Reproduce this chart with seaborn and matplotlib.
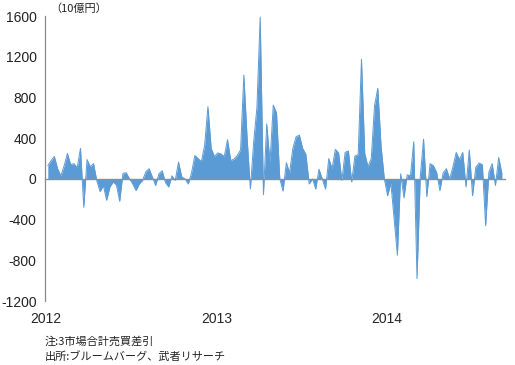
import numpy as np
import pandas as pd
import matplotlib
matplotlib.use("Agg")
import matplotlib.pyplot as plt
import matplotlib.dates as mdates
import seaborn as sns

# Weekly net buying (10億円), 3 markets combined
start_date = "2012-01-06"
values = [
    130, 180, 220, 100, 30, 130, 250, 140, 150, 110,
    300, -280, 190, 120, 150, -20, -125, -65, -210, -80,
    -30, -60, -220, 55, 60, 0, -50, -115, -50, -15,
    70, 100, 20, -65, 50, 80, -35, -80, 30, -15,
    165, 20, 0, -50, 60, 230, 200, 170, 330, 710,
    300, 220, 255, 245, 220, 385, 180, 195, 230, 285,
    1020, 400, -100, 360, 700, 1590, -155, 540, 160, 725,
    650, 0, -120, 160, 60, 300, 415, 430, 300, 240,
    -50, 0, -100, 95, 0, -100, 200, 100, 290, 255,
    -15, 260, 275, -30, 225, 240, 1175, 250, 120, 200,
    720, 890, 320, 0, -165, -40, -400, -750, 50, -185,
    40, 30, 365, -980, 20, 390, -175, 150, 130, 65,
    -115, 60, 100, 0, 120, 260, 190, 260, -80, 285,
    -165, 115, 155, 140, -460, 65, 150, -65, 210, 50,
]
ytick_values = [1600, 1200, 800, 400, 0, -400, -800, -1200]
year_ticks = ["2012-01-01", "2013-01-01", "2014-01-01"]
year_labels = ["2012", "2013", "2014"]
unit_label = "（10億円）"
note_lines = ["注:3市場合計売買差引", "出所:ブルームバーグ、武者リサーチ"]

dates = pd.date_range(start_date, periods=len(values), freq="7D")
df = pd.DataFrame({"date": dates, "value": values})

sns.set_style("white")
plt.rcParams["font.family"] = ["Liberation Sans", "DejaVu Sans"]
cjk = ["Noto Sans CJK JP", "DejaVu Sans"]

blue = "#5B9BD5"
fig = plt.figure(figsize=(5.15, 3.65), dpi=100)
ax = fig.add_axes([0.0874, 0.1753, 0.8936, 0.7808])

ax.fill_between(df["date"], 0, df["value"], color=blue, linewidth=0, zorder=2)
sns.lineplot(data=df, x="date", y="value", ax=ax, color=blue, linewidth=0.7, zorder=3)

ax.set_ylim(-1200, 1600)
ax.set_xlim(pd.Timestamp("2011-12-31"), pd.Timestamp("2014-09-12"))
ax.set_yticks(ytick_values)
ax.set_yticklabels([str(v) for v in ytick_values], fontsize=10, color="#222222")

ax.set_xticks([mdates.date2num(pd.Timestamp(d)) for d in year_ticks])
ax.set_xticklabels(year_labels, fontsize=10, color="#222222")

for s in ["top", "right"]:
    ax.spines[s].set_visible(False)
ax.spines["left"].set_color("#8a8a8a")
ax.spines["left"].set_linewidth(0.9)
ax.spines["bottom"].set_position(("data", 0))
ax.spines["bottom"].set_color("#9a8c80")
ax.spines["bottom"].set_linewidth(1.0)
ax.spines["bottom"].set_zorder(4)

ax.tick_params(axis="y", direction="out", length=4, width=0.8, color="#8a8a8a", pad=2)
ax.tick_params(axis="x", direction="out", length=3, width=0.8, color="#9a8c80", pad=93)
ax.set_xlabel("")
ax.set_ylabel("")
ax.grid(False)

fig.text(0.097, 0.977, unit_label, fontsize=8, family=cjk, ha="left", va="center", color="#222222")
fig.text(0.087, 0.066, note_lines[0], fontsize=8, family=cjk, ha="left", va="center", color="#222222")
fig.text(0.087, 0.024, note_lines[1], fontsize=8, family=cjk, ha="left", va="center", color="#222222")

fig.savefig("out.png", dpi=100)
